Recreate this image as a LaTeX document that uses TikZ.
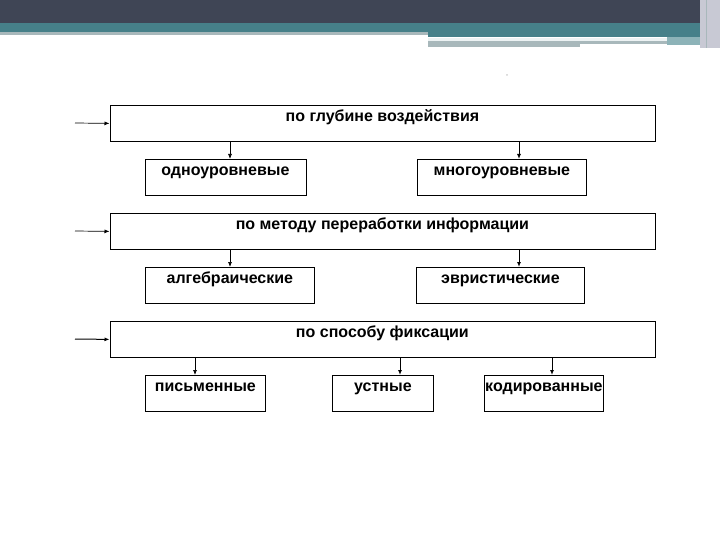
\documentclass[tikz,border=0pt]{standalone}
\usepackage{fontspec}
\setmainfont{Liberation Sans}
\usepackage{xcolor}
\usetikzlibrary{arrows.meta,positioning,calc}
\definecolor{hdrdark}{RGB}{63,69,85}
\definecolor{hdrteal}{RGB}{70,128,137}
\definecolor{hdrgray}{RGB}{168,184,187}
\definecolor{hdrlight}{RGB}{141,179,184}
\definecolor{hdrside}{RGB}{200,201,212}
\tikzset{
  group/.style={rectangle, draw=black, line width=0.8pt, anchor=north west,
                minimum width=545pt, minimum height=36pt,
                inner xsep=0pt, inner ysep=0pt, text height=16.5pt, text depth=19.5pt,
                font=\fontsize{16}{18}\selectfont\bfseries},
  kind/.style={group, minimum width=#1},
  arrow/.style={-{Latex[length=5pt,width=4pt]}, line width=0.7pt},
  inarrow/.style={arrow, line width=1pt}
}
\begin{document}
\begin{tikzpicture}[x=1pt,y=-1pt]
\useasboundingbox (0,0) rectangle (720,540);
% slide header
\fill[hdrdark] (0,0) rectangle (720,23);
\fill[hdrteal] (0,23) rectangle (700,32);
\fill[hdrgray] (0,32) rectangle (428,35);
\fill[hdrteal] (428,32) rectangle (700,37);
\fill[white!90!hdrteal] (428,38) rectangle (667,41);
\fill[hdrgray] (428,41) rectangle (667,44);
\fill[hdrgray] (428,44) rectangle (580,47);
\fill[hdrlight] (667,37) rectangle (700,45);
\fill[hdrside] (700,0) rectangle (720,48);
\draw[hdrgray, line width=1pt] (706,0) -- (706,48);
\node[text=gray!60, font=\scriptsize] (mark) at (507,76) {,,};

% row 1
\node[group] (depth) at (109.5,105) {по глубине воздействия};
\node[kind=161pt] (single) at (144.5,159) {одноуровневые};
\node[kind=169pt] (multi) at (417,159) {многоуровневые};
\coordinate (in1) at (75,123);
\draw[arrow] (in1) -- (depth.west);
\draw[arrow] (depth.south -| 230,0) -- (single.north -| 230,0);
\draw[arrow, line width=1pt] (depth.south -| 519,0) -- (multi.north -| 519,0);

% row 2
\node[group] (method) at (109.5,213) {по методу переработки информации};
\node[kind=169pt] (algebra) at (145,267) {алгебраические};
\node[kind=168pt] (heur) at (416,267) {эвристические};
\coordinate (in2) at (75,231);
\draw[arrow] (in2) -- (method.west);
\draw[arrow] (method.south -| 230,0) -- (algebra.north -| 230,0);
\draw[arrow, line width=1pt] (method.south -| 519,0) -- (heur.north -| 519,0);

% row 3
\node[group] (fix) at (109.5,321) {по способу фиксации};
\node[kind=120pt] (written) at (145,375) {письменные};
\node[kind=101pt] (oral) at (332,375) {устные};
\node[kind=119pt] (coded) at (484,375) {кодированные};
\coordinate (in3) at (75,339);
\draw[inarrow] (in3) -- (fix.west);
\draw[arrow] (fix.south -| 195,0) -- (written.north -| 195,0);
\draw[inarrow] (fix.south -| 400,0) -- (oral.north -| 400,0);
\draw[inarrow] (fix.south -| 552,0) -- (coded.north -| 552,0);
\end{tikzpicture}
\end{document}
